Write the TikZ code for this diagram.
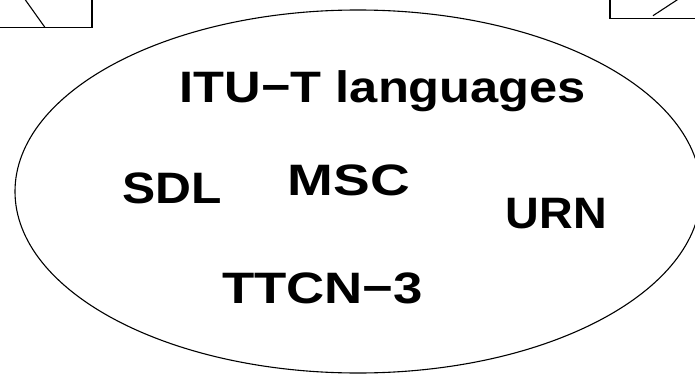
\documentclass[tikz,border=0pt]{standalone}
\usepackage{fontspec}
\setmainfont{Liberation Sans}
\begin{document}
\begin{tikzpicture}[x=1pt,y=-1pt,
  lang/.style={font=\fontsize{44}{44}\selectfont\bfseries, inner sep=0pt, anchor=base, xscale=#1},
  lang/.default=1.13,
  edge/.style={draw=black, line width=1.1pt}]
\useasboundingbox (0,0) rectangle (695,374);
\clip (0,0) rectangle (695,374);
% partial boxes at the top corners
\draw[edge] (-20,-20) rectangle (92,27.5);
\coordinate (tla) at (24,-2);
\coordinate (tlb) at (45,27.5);
\draw[edge] (tla) -- (tlb);
\draw[edge] (610,-20) rectangle (720,18.3);
\coordinate (tra) at (653,15.7);
\coordinate (trb) at (680,-2);
\draw[edge] (tra) -- (trb);
% ellipse
\draw[edge] (358,191.5) ellipse [x radius=343, y radius=181.5];
% texts
\node[lang=1.15] (itu) at (383,103) {ITU−T languages};
\node[lang=1.13] (sdl) at (172.5,203) {SDL};
\node[lang=1.25] (msc) at (349,195) {MSC};
\node[lang=1.06] (urn) at (556.5,228) {URN};
\node[lang=1.2] (ttcn) at (322.5,303) {TTCN−3};
\end{tikzpicture}
\end{document}
